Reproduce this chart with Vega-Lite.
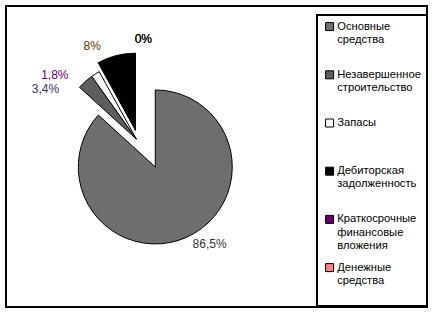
{
  "$schema": "https://vega.github.io/schema/vega-lite/v6.json",
  "width": 435,
  "height": 313,
  "autosize": {"type": "fit", "contains": "padding"},
  "padding": {"left": 5, "top": 5, "right": 7, "bottom": 5},
  "background": "white",
  "config": {
    "view": {"stroke": null},
    "locale": {"number": {"decimal": ",", "thousands": " ", "grouping": [3], "currency": ["", " ₽"]}},
    "legend": {"strokeWidth": 2}
  },
  "data": {
    "values": [
      {"n": 1, "category": "Основные средства", "value": 0.865},
      {"n": 2, "category": "Незавершенное строительство", "value": 0.034},
      {"n": 3, "category": "Запасы", "value": 0.018},
      {"n": 4, "category": "Дебиторская задолженность", "value": 0.08},
      {"n": 5, "category": "Краткосрочные финансовые вложения", "value": 0},
      {"n": 6, "category": "Денежные средства", "value": 0}
    ]
  },
  "layer": [
    {
      "data": {"values": [{}]},
      "mark": {"type": "rect", "fill": "white", "fillOpacity": 0, "stroke": "black", "strokeWidth": 2},
      "encoding": {
        "x": {"value": 0}, "x2": {"value": "width"},
        "y": {"value": 0}, "y2": {"value": "height"}
      }
    },
    {
      "mark": {"type": "arc", "radius": 77, "stroke": "black", "strokeWidth": 1, "x": {"expr": "width*0.3546"}, "y": {"expr": "height*0.5347"}},
      "encoding": {
        "theta": {"field": "value", "type": "quantitative", "stack": true},
        "order": {"field": "n", "type": "quantitative"},
        "fill": {
          "field": "category", "type": "nominal",
          "scale": {
            "domain": ["Основные средства", "Незавершенное строительство", "Запасы", "Дебиторская задолженность", "Краткосрочные финансовые вложения", "Денежные средства"],
            "range": ["#6e6e6e", "#5e5e5e", "#ffffff", "#000000", "#660066", "#ff8080"]
          },
          "legend": {
            "orient": "none", "legendX": 311, "legendY": 9, "title": null,
            "symbolType": "square", "symbolSize": 64, "symbolStrokeColor": "black", "symbolStrokeWidth": 1, "symbolOffset": 1,
            "labelFont": "Liberation Sans", "labelFontSize": 11.2, "labelColor": "black", "labelLineHeight": 15,
            "labelBaseline": "middle", "labelOffset": 2, "labelLimit": 200,
            "labelExpr": "slice(split(datum.label + '  ', ' '), 0, 3)",
            "gridAlign": "all", "rowPadding": 9.2, "padding": 6,
            "strokeColor": "black", "fillColor": "white"
          }
        },
        "opacity": {"condition": {"test": "datum.n == 1", "value": 1}, "value": 0}
      }
    },
    {
      "mark": {"type": "arc", "radius": 77, "stroke": "black", "strokeWidth": 1, "x": {"expr": "width*0.3097"}, "y": {"expr": "height*0.4422"}},
      "encoding": {
        "theta": {"field": "value", "type": "quantitative", "stack": true},
        "order": {"field": "n", "type": "quantitative"},
        "fill": {"field": "category", "type": "nominal"},
        "opacity": {"condition": {"test": "datum.n == 2 || datum.n == 3", "value": 1}, "value": 0}
      }
    },
    {
      "mark": {"type": "arc", "radius": 77, "stroke": "black", "strokeWidth": 1, "x": {"expr": "width*0.3073"}, "y": {"expr": "height*0.4125"}},
      "encoding": {
        "theta": {"field": "value", "type": "quantitative", "stack": true},
        "order": {"field": "n", "type": "quantitative"},
        "fill": {"field": "category", "type": "nominal"},
        "opacity": {"condition": {"test": "datum.n >= 4", "value": 1}, "value": 0}
      }
    },
    {
      "mark": {"type": "text", "radius": 94, "thetaOffset": -0.2, "font": "Liberation Sans", "fontSize": 12, "x": {"expr": "width*0.3546"}, "y": {"expr": "height*0.5347"}},
      "encoding": {
        "theta": {"field": "value", "type": "quantitative", "stack": true},
        "order": {"field": "n", "type": "quantitative"},
        "text": {"condition": {"test": "datum.n == 1", "field": "value", "type": "quantitative", "format": ".1~%"}, "value": ""},
        "fill": {"value": "#333333"}
      }
    },
    {
      "mark": {"type": "text", "radius": 104, "thetaOffset": -0.34, "font": "Liberation Sans", "fontSize": 12, "x": {"expr": "width*0.3097"}, "y": {"expr": "height*0.4422"}},
      "encoding": {
        "theta": {"field": "value", "type": "quantitative", "stack": true},
        "order": {"field": "n", "type": "quantitative"},
        "text": {"condition": {"test": "datum.n == 2 || datum.n == 3", "field": "value", "type": "quantitative", "format": ".1~%"}, "value": ""},
        "fill": {"condition": {"test": "datum.n == 3", "value": "#660066"}, "value": "#333366"}
      }
    },
    {
      "mark": {"type": "text", "radius": 95, "thetaOffset": -0.22, "font": "Liberation Sans", "fontSize": 12, "x": {"expr": "width*0.3073"}, "y": {"expr": "height*0.4125"}},
      "encoding": {
        "theta": {"field": "value", "type": "quantitative", "stack": true},
        "order": {"field": "n", "type": "quantitative"},
        "text": {"condition": {"test": "datum.n == 4", "field": "value", "type": "quantitative", "format": ".1~%"}, "value": ""},
        "fill": {"value": "#663300"}
      }
    },
    {
      "mark": {"type": "text", "radius": 92, "thetaOffset": 0.087, "font": "Liberation Sans", "fontSize": 12, "x": {"expr": "width*0.3073"}, "y": {"expr": "height*0.4125"}},
      "encoding": {
        "theta": {"field": "value", "type": "quantitative", "stack": true},
        "order": {"field": "n", "type": "quantitative"},
        "text": {"condition": {"test": "datum.n >= 5", "field": "value", "type": "quantitative", "format": ".1~%"}, "value": ""},
        "fill": {"value": "#000000"}
      }
    }
  ]
}
